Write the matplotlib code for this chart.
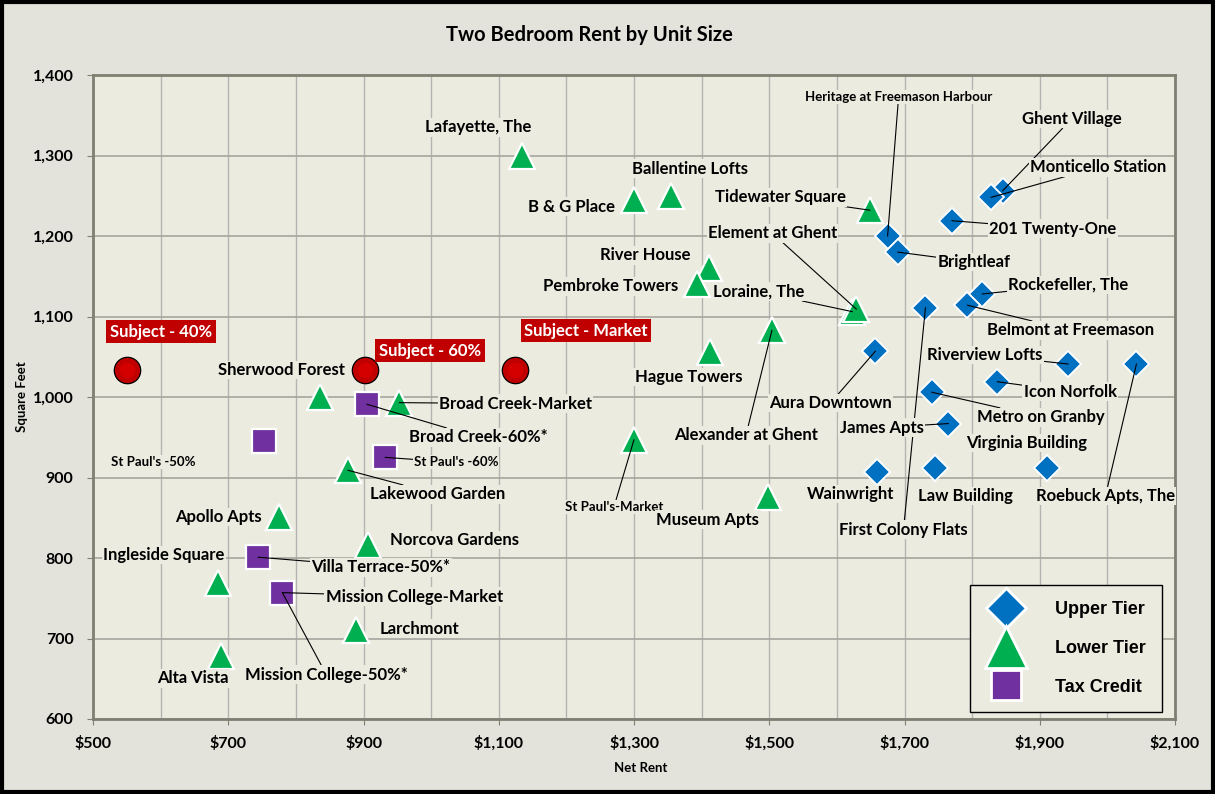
import matplotlib.pyplot as plt
from matplotlib.lines import Line2D
from matplotlib.patches import Rectangle
from matplotlib.ticker import MultipleLocator, FuncFormatter

# ---- data (net rent $, square feet) ----
upper_names = ["Heritage at Freemason Harbour", "Brightleaf", "Ghent Village", "Monticello Station",
               "201 Twenty-One", "Rockefeller, The", "Belmont at Freemason", "First Colony Flats",
               "Aura Downtown", "Riverview Lofts", "Roebuck Apts, The", "Icon Norfolk",
               "Metro on Granby", "James Apts", "Wainwright", "Law Building", "Virginia Building"]
upper_rent = [1675, 1690, 1845, 1828, 1770, 1815, 1793, 1731, 1657, 1942, 2043, 1837, 1740, 1765, 1660, 1745, 1910]
upper_sqft = [1200, 1180, 1256, 1248, 1219, 1128, 1114, 1111, 1057, 1041, 1041, 1019, 1006, 967, 907, 912, 912]

lower_names = ["Lafayette, The", "B & G Place", "Ballentine Lofts", "Tidewater Square", "River House",
               "Pembroke Towers", "Loraine, The", "Element at Ghent", "Alexander at Ghent", "Hague Towers",
               "Broad Creek-Market", "Sherwood Forest", "St Paul's-Market", "Lakewood Garden", "Museum Apts",
               "Apollo Apts", "Norcova Gardens", "Ingleside Square", "Larchmont", "Alta Vista"]
lower_rent = [1135, 1300, 1355, 1649, 1411, 1393, 1623, 1629, 1504, 1413, 953, 836, 1300, 877, 1498, 775, 907, 685, 889, 689]
lower_sqft = [1299, 1245, 1250, 1232, 1160, 1140, 1106, 1109, 1083, 1056, 993, 1000, 947, 909, 876, 851, 816, 769, 711, 678]

tax_names = ["Broad Creek-60%*", "St Paul's -60%", "St Paul's -50%", "Villa Terrace-50%*",
             "Mission College-Market", "Mission College-50%*"]
tax_rent = [905, 932, 753, 744, 780, 780]
tax_sqft = [991, 925, 945, 801, 757, 757]

subject_names = ["Subject - 40%", "Subject - 60%", "Subject - Market"]
subject_rent = [550, 902, 1124]
subject_sqft = [1034, 1034, 1034]

rent_ticks = list(range(500, 2101, 200))

# ---- label layout: offset in pixels (dx, dy up), leader line, small font ----
label_pos = {
    "Heritage at Freemason Harbour": (11, 139, True, True), "Brightleaf": (76, -10, True, False),
    "Ghent Village": (69, 72, True, False), "Monticello Station": (107, 30, True, False),
    "201 Twenty-One": (101, -8, True, False), "Rockefeller, The": (86, 9, True, False),
    "Belmont at Freemason": (103, -25, True, False), "First Colony Flats": (-22, -222, True, False),
    "Aura Downtown": (-45, -52, True, False), "Riverview Lofts": (-83, 9, True, False),
    "Roebuck Apts, The": (-31, -132, True, False), "Icon Norfolk": (73, -10, True, False),
    "Metro on Granby": (109, -25, True, False), "James Apts": (-67, -4, True, False),
    "Wainwright": (-27, -22, False, False), "Law Building": (31, -28, False, False),
    "Virginia Building": (-20, 25, False, False),
    "Lafayette, The": (-44, 29, False, False), "B & G Place": (-62, -7, False, False),
    "Ballentine Lofts": (19, 27, False, False), "Tidewater Square": (-90, 13, True, False),
    "River House": (-64, 13, False, False), "Pembroke Towers": (-86, -2, False, False),
    "Loraine, The": (-94, 20, True, False), "Element at Ghent": (-84, 76, True, False),
    "Alexander at Ghent": (-26, -105, True, False), "Hague Towers": (-22, -25, False, False),
    "Broad Creek-Market": (116, -1, True, False), "Sherwood Forest": (-39, 27, False, False),
    "St Paul's-Market": (-20, -67, True, True), "Lakewood Garden": (90, -24, True, False),
    "Museum Apts": (-60, -23, False, False), "Apollo Apts": (-61, 0, False, False),
    "Norcova Gardens": (86, 5, False, False), "Ingleside Square": (-54, 28, False, False),
    "Larchmont": (63, 1, False, False), "Alta Vista": (-28, -22, False, False),
    "Broad Creek-60%*": (111, -33, True, False), "St Paul's -60%": (71, -5, True, True),
    "St Paul's -50%": (-111, -21, False, True), "Villa Terrace-50%*": (123, -10, True, False),
    "Mission College-Market": (132, -4, True, False), "Mission College-50%*": (44, -82, True, False),
}
subject_pos = [(34, 38), (65, 19), (71, 39)]

FIG_BG = "#e3e3dc"
PLOT_BG = "#ebebe0"
BLUE, GREEN, PURPLE, RED = "#0070c0", "#00b050", "#7030a0", "#c00000"

plt.rcParams['font.family'] = ['Lato', 'DejaVu Sans']

fig = plt.figure(figsize=(12.15, 7.94), dpi=100)
fig.patch.set_facecolor(FIG_BG)
ax = fig.add_axes([93 / 1215, 1 - 719 / 794, 1082 / 1215, 644 / 794])
ax.set_facecolor(PLOT_BG)

ax.set_xlim(500, 2100)
ax.set_ylim(600, 1400)
ax.set_xticks(rent_ticks)
ax.xaxis.set_minor_locator(MultipleLocator(100))
ax.yaxis.set_major_locator(MultipleLocator(100))
ax.xaxis.set_major_formatter(FuncFormatter(lambda v, p: f"${v:,.0f}"))
ax.yaxis.set_major_formatter(FuncFormatter(lambda v, p: f"{v:,.0f}"))
ax.grid(True, which='both', axis='x', color='#b4b4b0', lw=1)
ax.grid(True, which='major', axis='y', color='#a6a6a0', lw=1.2)
ax.set_axisbelow(True)
ax.tick_params(axis='both', which='major', labelsize=11.5, length=4, color='#808070', pad=8)
ax.tick_params(axis='y', which='major', pad=10)
ax.tick_params(axis='x', which='minor', length=0)
for lab in ax.get_xticklabels() + ax.get_yticklabels():
    lab.set_fontweight('bold')
for sp in ax.spines.values():
    sp.set_color('#7f7f72')
    sp.set_linewidth(2)

ax.plot(upper_rent, upper_sqft, 'D', ms=13, mfc=BLUE, mec='white', mew=1.3, ls='none', zorder=3)
ax.plot(lower_rent, lower_sqft, '^', ms=19, mfc=GREEN, mec='white', mew=1.6, ls='none', zorder=3)
ax.plot(tax_rent, tax_sqft, 's', ms=17, mfc=PURPLE, mec='white', mew=1.6, ls='none', zorder=3)
ax.plot(subject_rent, subject_sqft, 'o', ms=19, mfc=RED, mec='black', mew=0.9, ls='none', zorder=3)
ax.plot(subject_rent, subject_sqft, 'o', ms=11, mfc='#d40000', mec='none', ls='none', zorder=3)


def add_label(name, x, y):
    dx, dy, leader, small = label_pos[name]
    ax.annotate(name, (x, y), xytext=(dx * 0.72, dy * 0.72), textcoords='offset points',
                ha='center', va='center', fontsize=9.5 if small else 12, fontweight='bold',
                bbox=dict(boxstyle='square,pad=0.08', fc=PLOT_BG, ec='none'),
                arrowprops=dict(arrowstyle='-', color='black', lw=0.8, shrinkA=0, shrinkB=0) if leader else None,
                zorder=4)


for names, xs, ys in [(upper_names, upper_rent, upper_sqft), (lower_names, lower_rent, lower_sqft),
                      (tax_names, tax_rent, tax_sqft)]:
    for n, x, y in zip(names, xs, ys):
        add_label(n, x, y)

for n, x, y, (dx, dy) in zip(subject_names, subject_rent, subject_sqft, subject_pos):
    ax.annotate(n, (x, y), xytext=(dx * 0.72, dy * 0.72), textcoords='offset points',
                ha='center', va='center', fontsize=12, fontweight='bold', color='white',
                bbox=dict(boxstyle='square,pad=0.22', fc=RED, ec='none'), zorder=5)

handles = [Line2D([], [], marker='D', ls='none', ms=20, mfc=BLUE, mec='white', mew=2),
           Line2D([], [], marker='^', ms=30, ls='none', mfc=GREEN, mec='white', mew=2),
           Line2D([], [], marker='s', ms=21, ls='none', mfc=PURPLE, mec='white', mew=2)]
leg = ax.legend(handles, ["Upper Tier", "Lower Tier", "Tax Credit"], loc='lower right',
                bbox_to_anchor=(0.988, 0.011), frameon=True, fancybox=False, framealpha=1,
                facecolor=PLOT_BG, edgecolor='black', borderpad=0.9, labelspacing=1.2,
                handlelength=2.2, handletextpad=1.6, borderaxespad=0,
                prop={'family': 'Liberation Sans', 'weight': 'bold', 'size': 13})
leg.get_frame().set_linewidth(1)
leg.set_zorder(6)

fig.text(589 / 1215, 1 - 35 / 794, "Two Bedroom Rent by Unit Size", ha='center', va='center',
         fontsize=14.5, fontweight='bold')
fig.text(22 / 1215, 1 - 397 / 794, "Square Feet", rotation=90, ha='center', va='center',
         fontsize=9.5, fontweight='bold')
fig.text(641 / 1215, 1 - 768 / 794, "Net Rent", ha='center', va='center', fontsize=9.5, fontweight='bold')

fig.add_artist(Rectangle((0.0015, 0.002), 0.997, 0.996, transform=fig.transFigure,
                         fill=False, ec='black', lw=3))

fig.savefig("out.png", dpi=100, facecolor=FIG_BG)
